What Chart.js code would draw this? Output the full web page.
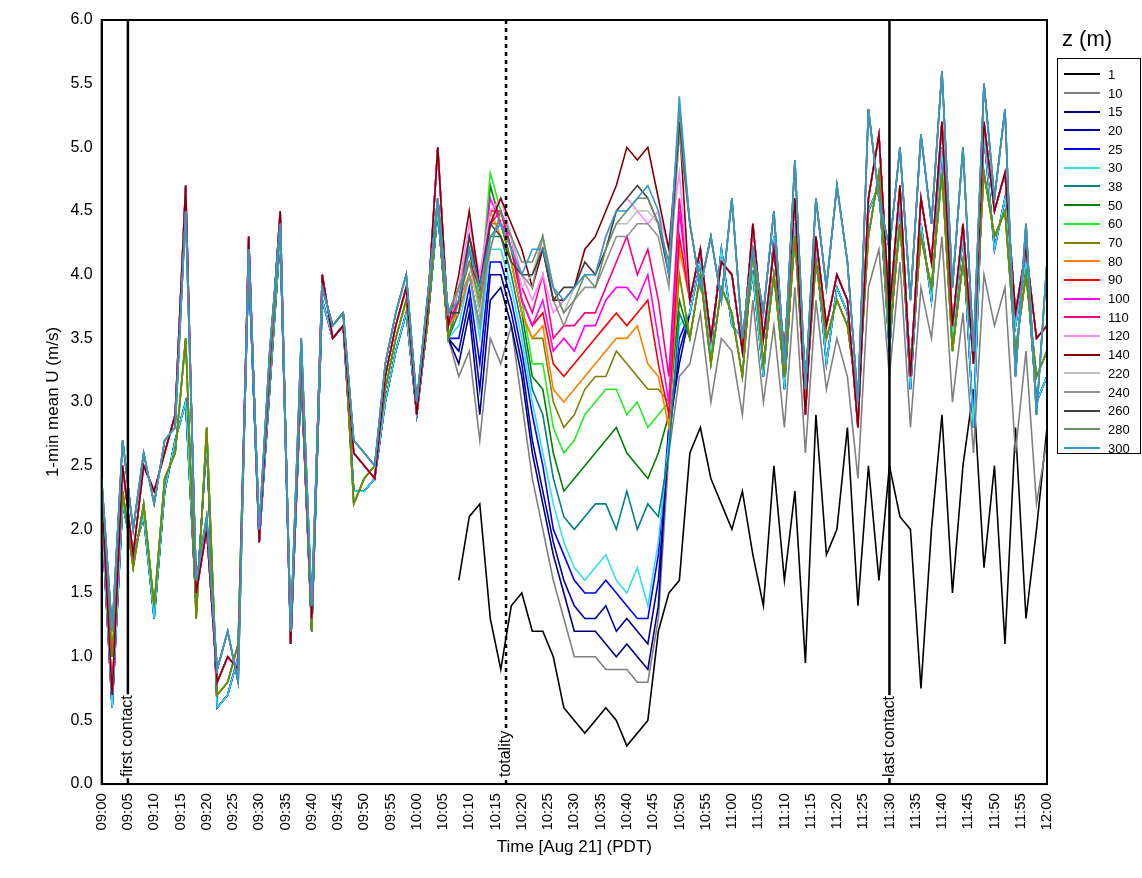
<!DOCTYPE html>
<html>
<head>
<meta charset="utf-8">
<script src="https://cdn.jsdelivr.net/npm/chart.js@4.4.1/dist/chart.umd.min.js"></script>
<style>
  body { margin: 0; background: #fff; font-family: "Liberation Sans", Arial, sans-serif; }
  #wrap { position: relative; width: 1142px; height: 878px; }
  #legend { position: absolute; left: 1057px; top: 58px; width: 84px; height: 396px; border: 1px solid #000; box-sizing: border-box; padding-top: 6px; }
  #legend div { height: 18.7px; font-size: 13px; display: flex; align-items: center; }
  #legend span.l { display: inline-block; width: 36px; height: 2px; margin: 0 8px 0 6px; }
  #ltitle { position: absolute; left: 1062px; top: 26px; font-size: 22px; }
</style>
</head>
<body>
<div id="wrap">
  <canvas id="myChart" width="1142" height="878"></canvas>
  <div id="ltitle">z (m)</div>
  <div id="legend"></div>
</div>
<script>
// minutes after 09:00, every 2 min
const times = [];
for (let t = 0; t <= 180; t += 2) times.push(t);

// 09:00 - 10:06 (34 values)
const earlyHigh = [2.3,0.7,2.5,1.8,2.5,2.3,2.6,2.9,4.7,1.5,2.0,0.8,1.0,0.9,4.3,1.9,3.3,4.5,1.1,3.4,1.3,4.0,3.5,3.6,2.6,2.5,2.4,3.2,3.6,3.9,2.9,3.7,5.0,3.6];
const earlyTop  = [2.4,1.2,2.7,2.0,2.6,2.2,2.7,2.8,4.5,1.6,2.1,0.9,1.2,0.8,4.2,2.0,3.4,4.4,1.2,3.5,1.4,3.9,3.6,3.7,2.7,2.6,2.5,3.3,3.7,4.0,3.0,3.8,4.6,3.7];
const earlyMid  = [2.2,1.0,2.3,1.7,2.2,1.4,2.4,2.6,3.5,1.3,2.8,0.7,0.8,1.1,4.2,2.0,3.2,4.4,1.2,3.3,1.2,3.9,3.6,3.7,2.2,2.4,2.5,3.1,3.5,3.8,3.0,3.6,4.6,3.5];
const earlyLow  = [2.1,0.6,2.2,1.8,2.1,1.3,2.3,2.7,3.0,1.4,2.7,0.6,0.7,1.0,4.1,1.9,3.1,4.3,1.1,3.2,1.2,3.8,3.5,3.6,2.3,2.3,2.4,3.0,3.4,3.7,2.9,3.6,4.5,3.5];
const earlyNone = new Array(34).fill(null);

// 10:52 - 12:00 (35 values)
const lateHigh = [3.8,4.2,3.5,4.1,4.0,3.4,4.4,3.5,4.2,3.4,4.6,2.9,4.3,3.6,4.0,3.8,2.8,4.6,5.1,3.7,4.7,3.2,4.6,4.1,5.2,3.6,4.4,3.3,5.2,4.5,4.8,3.7,4.2,3.5,3.6];
const lateTop  = [4.4,3.9,4.3,3.8,4.6,3.5,4.2,3.7,4.5,3.3,4.9,3.1,4.6,3.9,4.7,4.1,3.0,5.3,4.6,4.2,5.0,3.8,5.1,4.4,5.6,3.9,5.0,3.4,5.5,4.6,5.3,3.2,4.4,2.9,4.1];
const lateMid  = [3.5,4.0,3.3,3.9,3.7,3.2,4.2,3.3,4.0,3.2,4.3,3.0,4.1,3.5,3.8,3.6,3.0,4.3,4.8,3.5,4.4,3.3,4.3,3.9,4.8,3.4,4.1,3.4,4.8,4.3,4.5,3.4,4.0,3.2,3.4];
const lateLow  = [3.7,4.1,3.4,4.2,3.6,3.5,4.0,3.2,4.3,3.1,4.4,3.2,4.2,3.3,3.9,3.7,2.9,4.5,4.7,3.4,4.6,3.1,4.4,3.8,5.0,3.5,4.3,2.8,5.1,4.2,4.6,3.6,4.1,3.0,3.2];
const late10   = [3.3,3.7,3.0,3.5,3.4,2.9,3.8,3.0,3.6,2.8,3.9,2.6,3.8,3.1,3.5,3.2,2.4,3.9,4.2,3.2,4.1,2.8,3.9,3.5,4.3,3.0,3.7,2.6,4.0,3.6,3.9,2.6,3.4,2.2,2.7];
const late1    = [2.6,2.8,2.4,2.2,2.0,2.3,1.8,1.4,2.5,1.6,2.3,0.95,2.9,1.8,2.0,2.8,1.4,2.5,1.6,2.5,2.1,2.0,0.75,2.0,2.9,1.5,2.5,3.1,1.7,2.5,1.1,2.8,1.3,2.0,2.8];

// 10:08 - 10:50 (22 values) per height
const ecl = {
  1:   [1.6,2.1,2.2,1.3,0.9,1.4,1.5,1.2,1.2,1.0,0.6,0.5,0.4,0.5,0.6,0.5,0.3,0.4,0.5,1.2,1.5,1.6],
  10:  [3.2,3.4,2.7,3.5,3.3,3.6,3.0,2.4,2.0,1.6,1.3,1.0,1.0,1.0,0.9,0.9,0.9,0.8,0.8,1.3,2.6,3.2],
  15:  [3.3,3.7,2.9,3.8,3.9,3.6,3.2,2.6,2.2,1.8,1.5,1.2,1.2,1.2,1.1,1.0,1.1,1.0,0.9,1.4,2.8,3.3],
  20:  [3.4,3.8,3.1,4.0,4.0,3.7,3.3,2.7,2.3,1.9,1.6,1.4,1.3,1.3,1.4,1.2,1.3,1.2,1.1,1.6,2.7,3.4],
  25:  [3.5,3.9,3.3,4.1,4.1,3.8,3.4,2.9,2.5,2.0,1.8,1.6,1.5,1.5,1.6,1.5,1.4,1.3,1.3,1.8,2.8,3.5],
  30:  [3.6,4.0,3.5,4.2,4.2,3.9,3.5,3.0,2.6,2.2,1.9,1.7,1.6,1.7,1.8,1.6,1.5,1.7,1.4,1.9,2.7,3.6],
  38:  [3.7,4.0,3.6,4.3,4.3,4.0,3.6,3.1,2.9,2.4,2.1,2.0,2.1,2.2,2.2,2.0,2.3,2.0,2.2,2.1,2.6,3.7],
  50:  [3.8,4.2,3.7,4.7,4.4,4.1,3.7,3.2,3.1,2.6,2.3,2.4,2.5,2.6,2.7,2.8,2.6,2.5,2.4,2.6,2.9,3.8],
  60:  [3.9,4.3,3.8,4.8,4.5,4.2,3.8,3.3,3.3,2.8,2.6,2.7,2.9,3.0,3.1,3.1,2.9,3.0,2.8,2.9,3.0,4.0],
  70:  [3.8,4.1,3.7,4.4,4.4,4.1,3.7,3.5,3.5,3.0,2.8,2.9,3.1,3.2,3.2,3.4,3.3,3.2,3.1,3.1,3.0,4.0],
  80:  [3.7,4.0,3.8,4.5,4.3,4.1,3.7,3.5,3.6,3.1,3.0,3.1,3.2,3.3,3.4,3.5,3.5,3.6,3.3,3.2,2.8,4.2],
  90:  [3.9,4.1,3.9,4.5,4.5,4.2,3.8,3.6,3.7,3.3,3.2,3.3,3.4,3.5,3.6,3.7,3.6,3.7,3.8,3.3,2.9,4.3],
  100: [3.8,4.2,3.9,4.6,4.4,4.3,3.8,3.6,3.8,3.4,3.5,3.4,3.6,3.6,3.8,3.9,3.9,3.8,4.0,3.5,3.0,4.5],
  110: [3.8,4.3,4.0,4.4,4.5,4.2,3.9,3.7,4.0,3.5,3.6,3.6,3.7,3.7,3.9,4.1,4.3,4.0,4.2,3.8,3.2,4.6],
  120: [3.9,4.4,4.0,4.5,4.6,4.3,4.0,3.8,4.0,3.7,3.8,3.9,4.1,4.0,4.3,4.5,4.6,4.5,4.4,4.5,4.2,4.8],
  140: [4.0,4.5,3.9,4.4,4.6,4.4,4.2,3.9,4.2,3.8,3.8,3.9,4.2,4.3,4.5,4.7,5.0,4.9,5.0,4.6,4.2,5.2],
  220: [3.9,4.1,3.7,4.2,4.5,4.3,3.9,4.0,4.3,3.9,3.7,3.9,4.0,4.0,4.2,4.4,4.4,4.5,4.5,4.4,4.0,5.2],
  240: [3.8,4.0,3.6,4.3,4.4,4.2,4.0,3.9,4.3,3.8,3.6,3.8,3.9,3.9,4.1,4.3,4.3,4.4,4.4,4.3,3.9,5.1],
  260: [3.7,4.3,3.9,4.4,4.3,4.1,4.0,4.0,4.2,3.8,3.9,3.9,4.1,4.0,4.2,4.5,4.6,4.7,4.6,4.4,4.0,5.2],
  280: [3.9,4.1,3.8,4.2,4.5,4.3,4.1,4.1,4.3,3.9,3.7,3.8,4.0,3.9,4.2,4.4,4.5,4.6,4.6,4.4,4.1,5.3],
  300: [3.8,4.2,3.9,4.3,4.4,4.2,4.0,4.2,4.2,3.9,3.8,3.9,4.0,4.0,4.3,4.5,4.5,4.6,4.7,4.5,4.0,5.4]
};

const heights = [1,10,15,20,25,30,38,50,60,70,80,90,100,110,120,140,220,240,260,280,300];
const colors = ["#000000","#808080","#000080","#0000a8","#0000ff","#33e0e8","#008080","#008000","#22ee22","#808000","#ff8000","#ff0000","#ff00ff","#ff0080","#ff88ff","#800000","#c0c0c0","#909090","#404040","#6b8e6b","#3399cc"];

function earlyFor(z) {
  if (z === 1) return earlyNone;
  if (z <= 30) return earlyLow;
  if (z <= 70) return earlyMid;
  if (z <= 140) return earlyHigh;
  return earlyTop;
}
function lateFor(z) {
  if (z === 1) return late1;
  if (z === 10) return late10;
  if (z <= 30) return lateLow;
  if (z <= 70) return lateMid;
  if (z <= 140) return lateHigh;
  return lateTop;
}

const datasets = heights.map((z, i) => {
  const vals = [...earlyFor(z), ...ecl[z], ...lateFor(z)];
  return {
    label: String(z),
    data: times.map((t, k) => ({ x: t, y: vals[k] })),
    borderColor: colors[i],
    borderWidth: 1.6,
    pointRadius: 0,
    tension: 0,
    spanGaps: false,
    order: heights.length - i
  };
});

// legend
const legend = document.getElementById("legend");
heights.forEach((z, i) => {
  legend.innerHTML += `<div><span class="l" style="background:${colors[i]}"></span>${z}</div>`;
});

const markers = [
  { x: 5, text: "first contact", dash: [] },
  { x: 77, text: "totality", dash: [4, 4] },
  { x: 150, text: "last contact", dash: [] }
];

const markerPlugin = {
  id: "markers",
  afterDatasetsDraw(chart) {
    const c = chart.ctx, a = chart.chartArea, xs = chart.scales.x;
    c.save();
    c.strokeStyle = "#000";
    c.lineWidth = 2;
    c.strokeRect(a.left, a.top, a.right - a.left, a.bottom - a.top);
    markers.forEach(m => {
      const px = xs.getPixelForValue(m.x);
      c.setLineDash(m.dash);
      c.lineWidth = 2.5;
      c.beginPath();
      c.moveTo(px, a.top);
      c.lineTo(px, a.bottom);
      c.stroke();
      c.setLineDash([]);
      c.font = "16px 'Liberation Sans', Arial";
      const w = c.measureText(m.text).width;
      c.save();
      c.translate(px, a.bottom - 6);
      c.rotate(-Math.PI / 2);
      c.fillStyle = "#fff";
      c.fillRect(0, -8, w + 2, 16);
      c.fillStyle = "#000";
      c.textBaseline = "middle";
      c.fillText(m.text, 1, 0);
      c.restore();
    });
    c.restore();
  }
};

const ctx = document.getElementById("myChart").getContext("2d");
new Chart(ctx, {
  type: "line",
  data: { datasets },
  options: {
    responsive: false,
    animation: false,
    layout: { padding: { left: 39, right: 95, top: 20, bottom: 16 } },
    plugins: { legend: { display: false }, tooltip: { enabled: false } },
    scales: {
      x: {
        type: "linear", min: 0, max: 180,
        grid: { display: false, drawTicks: true, tickLength: 6, color: "#000" },
        border: { color: "#000", width: 2 },
        ticks: {
          stepSize: 5, maxRotation: 90, minRotation: 90, autoSkip: false,
          color: "#000", font: { size: 15, family: "'Liberation Sans', Arial" },
          callback: v => {
            const h = 9 + Math.floor(v / 60), m = v % 60;
            return String(h).padStart(2, "0") + ":" + String(m).padStart(2, "0");
          }
        },
        title: { display: true, text: "Time [Aug 21] (PDT)", color: "#000", font: { size: 17, family: "'Liberation Sans', Arial" } }
      },
      y: {
        min: 0, max: 6,
        grid: { display: false, drawTicks: true, tickLength: 6, color: "#000" },
        border: { color: "#000", width: 2 },
        ticks: {
          stepSize: 0.5, color: "#000", font: { size: 16, family: "'Liberation Sans', Arial" },
          callback: v => v.toFixed(1)
        },
        title: { display: true, text: "1-min mean U (m/s)", color: "#000", font: { size: 17, family: "'Liberation Sans', Arial" } }
      }
    }
  },
  plugins: [markerPlugin]
});
</script>
</body>
</html>
